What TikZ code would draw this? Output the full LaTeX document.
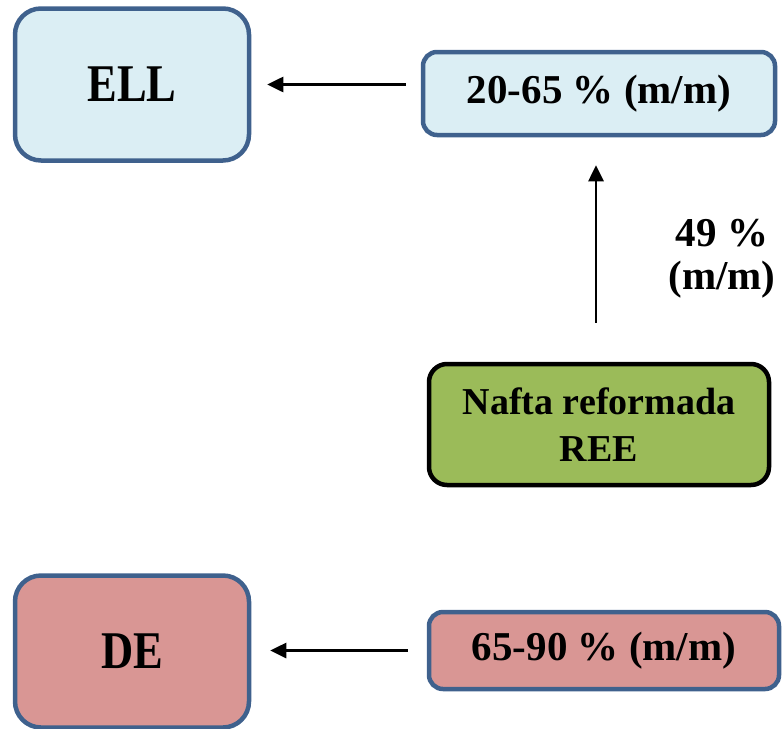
\documentclass[tikz,border=0pt]{standalone}
\usepackage{fontspec}
\setmainfont{Liberation Serif}
\newfontfamily\tallserif[FakeStretch=0.84]{Liberation Serif}
\usepackage{xcolor}
\usepackage{tikz}
\usetikzlibrary{arrows.meta,positioning}
\definecolor{edge}{HTML}{3F618D}
\definecolor{skyfill}{HTML}{DBEEF4}
\definecolor{olive}{HTML}{9BBB59}
\definecolor{rose}{HTML}{D99694}

\begin{document}
\begin{tikzpicture}[x=1pt,y=-1pt,
    box/.style={draw=edge,line width=4.5pt,align=center,inner sep=0pt,
      font=\bfseries\fontsize{41}{48}\selectfont},
    bigbox/.style={box,rounded corners=26pt,minimum width=234pt,minimum height=152pt,
      font=\tallserif\bfseries\fontsize{53}{58}\selectfont},
    arr/.style={line width=2.6pt,-{Triangle[length=16pt,width=15pt]}}]
  \useasboundingbox (0,0) rectangle (783,728);
  % left-hand boxes
  \node[bigbox,fill=skyfill] (ell) at (132,84.5) {ELL};
  \node[bigbox,fill=rose] (de) at (132,651.5) {DE};
  % right-hand boxes
  \node[box,fill=skyfill,rounded corners=14pt,minimum width=352pt,minimum height=83pt] (upper) at (599,93.5) {20-65 \% (m/m)};
  \node[box,fill=rose,rounded corners=14pt,minimum width=350pt,minimum height=77pt] (lower) at (604,650.5) {65-90 \% (m/m)};
  \node[box,draw=black,line width=4.5pt,fill=olive,rounded corners=18pt,minimum width=340pt,minimum height=121pt,
    font=\bfseries\fontsize{38}{47}\selectfont] (nafta) at (599,424.5) {Nafta reformada\\REE};
  \node[align=center,inner sep=0pt,font=\bfseries\fontsize{41}{43}\selectfont] (share) at (722,259) {49 \%\\(m/m)};
  % connectors
  \draw[arr] ([xshift=-15pt]upper.west |- ell.east) -- ([xshift=16pt]ell.east);
  \draw[arr,shorten <=39pt,shorten >=28pt] ([xshift=-3pt]nafta.north) -- ([xshift=-3pt]upper.south);
  \draw[arr] ([xshift=-19pt]lower.west) -- ([xshift=19pt]de.east |- lower.west);
\end{tikzpicture}
\end{document}
